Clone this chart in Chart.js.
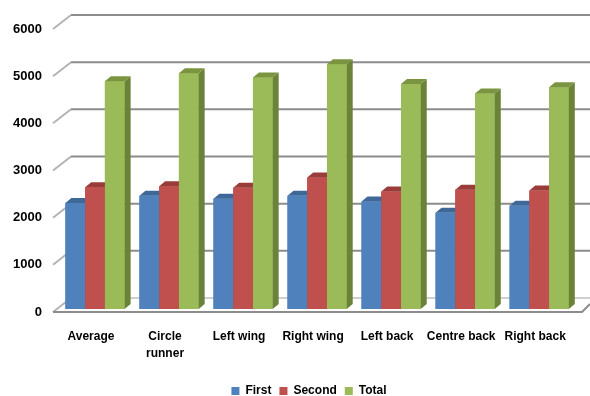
<!DOCTYPE html>
<html>
<head>
<meta charset="utf-8">
<script src="https://cdn.jsdelivr.net/npm/chart.js@4/dist/chart.umd.min.js"></script>
<style>
  html, body { margin: 0; padding: 0; background: #fff; }
  #wrap { width: 590px; height: 396px; }
</style>
</head>
<body>
<div id="wrap"><canvas id="scoreChart"></canvas></div>
<script>
// values
var categories = ['Average', ['Circle', 'runner'], 'Left wing', 'Right wing', 'Left back', 'Centre back', 'Right back'];
var firstValues = [2250, 2400, 2340, 2400, 2280, 2040, 2190];
var secondValues = [2580, 2600, 2570, 2790, 2490, 2530, 2510];
var totalValues = [4830, 5000, 4910, 5190, 4770, 4570, 4700];
var yTicks = [0, 1000, 2000, 3000, 4000, 5000, 6000];

var frontColors = ['#4f81bd', '#c0504d', '#9bbb59'];
var sideColors = ['#385d8a', '#8c3836', '#6b8239'];
var topColors = ['#3e6898', '#9a3d3a', '#7a9440'];
var DX = 6, DY = 5;

// fake 3d: walls / gridlines behind the bars, side + top faces on bars
var wallPlugin = {
    id: 'wall',
    afterLayout: function(chart) {
        // legend sits a bit right of centre in the original
        chart.legend.left += 30;
    },
    beforeDatasetsDraw: function(chart) {
        var ctx = chart.ctx, ys = chart.scales.y;
        ctx.save();
        ctx.lineWidth = 2;
        yTicks.forEach(function(v) {
            var y = ys.getPixelForValue(v) + 3;
            ctx.strokeStyle = '#b4b4b4';
            ctx.beginPath();
            ctx.moveTo(53, y);
            ctx.lineTo(71, y - 14);
            ctx.stroke();
            ctx.strokeStyle = v === 0 ? '#cfcfcf' : '#8c8c8c';
            ctx.beginPath();
            ctx.moveTo(71, y - 14);
            ctx.lineTo(590, y - 14);
            ctx.stroke();
        });
        // floor front edge
        var y0 = ys.getPixelForValue(0) + 3;
        ctx.strokeStyle = '#8c8c8c';
        ctx.beginPath();
        ctx.moveTo(53, y0);
        ctx.lineTo(582, y0);
        ctx.lineTo(590, y0 - 8);
        ctx.stroke();
        ctx.restore();
    },
    afterDatasetsDraw: function(chart) {
        var ctx = chart.ctx;
        ctx.save();
        // redraw in series order so each bar hides the side of the one before
        chart.data.datasets.forEach(function(ds, i) {
            chart.getDatasetMeta(i).data.forEach(function(bar) {
                var p = bar.getProps(['x', 'y', 'base', 'width'], true);
                var l = p.x - p.width / 2, r = p.x + p.width / 2;
                ctx.fillStyle = frontColors[i];
                ctx.fillRect(l, p.y, p.width, p.base - p.y);
                ctx.fillStyle = sideColors[i];
                ctx.beginPath();
                ctx.moveTo(r, p.y);
                ctx.lineTo(r + DX, p.y - DY);
                ctx.lineTo(r + DX, p.base - DY);
                ctx.lineTo(r, p.base);
                ctx.closePath();
                ctx.fill();
                ctx.fillStyle = topColors[i];
                ctx.beginPath();
                ctx.moveTo(l, p.y);
                ctx.lineTo(l + DX, p.y - DY);
                ctx.lineTo(r + DX, p.y - DY);
                ctx.lineTo(r, p.y);
                ctx.closePath();
                ctx.fill();
            });
        });
        ctx.restore();
    }
};

var ctx = document.getElementById('scoreChart').getContext('2d');
var chart = new Chart(ctx, {
    type: 'bar',
    data: {
        labels: categories,
        datasets: [
            { label: 'First', data: firstValues, backgroundColor: frontColors[0] },
            { label: 'Second', data: secondValues, backgroundColor: frontColors[1] },
            { label: 'Total', data: totalValues, backgroundColor: frontColors[2] }
        ]
    },
    options: {
        responsive: true,
        maintainAspectRatio: false,
        animation: false,
        layout: { padding: { top: 26, left: 0, right: 2, bottom: 0 } },
        datasets: { bar: { categoryPercentage: 0.8, barPercentage: 1.0 } },
        scales: {
            x: {
                grid: { display: false, drawTicks: false },
                border: { display: false },
                ticks: {
                    color: '#000',
                    font: { family: 'Liberation Sans', size: 12, weight: 'bold', lineHeight: 1.35 },
                    padding: 20,
                    labelOffset: -4,
                    maxRotation: 0,
                    autoSkip: false
                },
                afterFit: function(scale) { scale.height = 68; }
            },
            y: {
                min: 0,
                max: 6000,
                grid: { display: false, drawTicks: false },
                border: { display: false },
                ticks: {
                    stepSize: 1000,
                    color: '#000',
                    font: { family: 'Liberation Sans', size: 13, weight: 'bold' },
                    padding: 16,
                    labelOffset: 3,
                    callback: function(value) { return String(value); }
                },
                afterFit: function(scale) { scale.width = 58; }
            }
        },
        plugins: {
            legend: {
                position: 'bottom',
                maxHeight: 19,
                labels: {
                    boxWidth: 8,
                    boxHeight: 8,
                    padding: 8,
                    color: '#000',
                    font: { family: 'Liberation Sans', size: 12, weight: 'bold' }
                }
            },
            tooltip: { enabled: false }
        }
    },
    plugins: [wallPlugin]
});
</script>
</body>
</html>
